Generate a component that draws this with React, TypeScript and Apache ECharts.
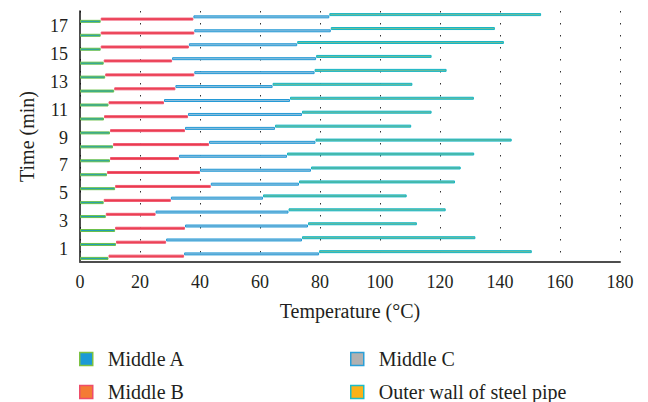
import React, { useEffect, useRef } from "react";
import * as echarts from "echarts";

const times = ["0", "1", "2", "3", "4", "5", "6", "7", "8", "9", "10", "11", "12", "13", "14", "15", "16", "17"];
const middleA = [9.5, 12, 11.7, 8.6, 7.9, 11.7, 9, 10, 11, 10, 8, 9.5, 11.4, 8.4, 7.9, 6.9, 6.9, 6.9];
const middleB = [34.7, 28.7, 35, 25.2, 30.3, 43.6, 40, 33, 43, 35, 36, 28, 31.8, 38.1, 30.7, 36.3, 38.1, 37.8];
const middleC = [79.7, 74, 76, 69.5, 61, 73, 77, 69, 78.5, 65, 74, 70, 64.2, 78.2, 78.7, 72.4, 83.6, 83.1];
const outerWall = [150.6, 131.8, 112.3, 121.9, 108.9, 125, 126.9, 131.4, 143.9, 110.4, 117.2, 131.3, 110.8, 122.2, 117.2, 141.3, 138.3, 153.7];
const xTicks = [0, 20, 40, 60, 80, 100, 120, 140, 160, 180];

const names = ["Middle A", "Middle B", "Middle C", "Outer wall of steel pipe"];
const legendFills = ["#1b9ad6", "#f47b35", "#b1b1b1", "#fbb219"];
const legendBorders = ["#7cc142", "#ee4d6a", "#2a9fd8", "#1cbcc8"];
const barFills = ["#1f9fb4", "#e93a4a", "#8fbfdc", "#74bc96"];
const barBorders = ["#6cc04a", "#f0566f", "#249ad6", "#14b6c6"];

const FONT = "'Liberation Serif', 'DejaVu Serif', serif";
const TEXT = "#231f20";

export default function App() {
  const ref = useRef<HTMLDivElement>(null);
  useEffect(() => {
    if (!ref.current) return;
    const chart = echarts.init(ref.current, null, { renderer: "svg" });
    const ends = [middleA, middleB, middleC, outerWall];
    const series: any[] = [];
    // Horizontal groups place the first stack at the top, so add the outer wall first.
    for (let i = 3; i >= 0; i--) {
      const stack = "s" + i;
      if (i > 0) {
        series.push({
          type: "bar",
          name: "_base" + i,
          stack,
          barWidth: 3,
          barGap: "-25%",
          silent: true,
          itemStyle: { color: "transparent", borderWidth: 0 },
          data: ends[i - 1],
        });
      }
      series.push({
        type: "bar",
        name: names[i],
        stack,
        barWidth: 3,
        barGap: "-25%",
        itemStyle: { color: barFills[i], borderColor: barBorders[i], borderWidth: 1 },
        data: ends[i].map((v, k) => (i > 0 ? +(v - ends[i - 1][k]).toFixed(2) : v)),
      });
    }
    const legendItem = (i: number) => ({
      name: names[i],
      itemStyle: { color: legendFills[i], borderColor: legendBorders[i], borderWidth: 1.5 },
    });
    const legendCommon = {
      orient: "vertical",
      top: 349,
      height: 60,
      padding: 0,
      icon: "rect",
      itemWidth: 13,
      itemHeight: 13,
      itemGap: 13,
      selectedMode: false,
      textStyle: { fontFamily: FONT, fontSize: 20, color: TEXT, padding: [0, 0, 0, 10] },
    };
    chart.setOption({
      animation: false,
      backgroundColor: "#ffffff",
      grid: { left: 80, right: 28, top: 11, bottom: 140, containLabel: false },
      legend: [
        { ...legendCommon, left: 79, data: [legendItem(0), legendItem(1)] },
        { ...legendCommon, left: 350, data: [legendItem(2), legendItem(3)] },
      ],
      xAxis: {
        type: "value",
        min: xTicks[0],
        max: xTicks[xTicks.length - 1],
        interval: xTicks[1] - xTicks[0],
        name: "Temperature (°C)",
        nameLocation: "middle",
        nameGap: 39,
        nameTextStyle: { fontFamily: FONT, fontSize: 20, color: TEXT },
        axisLine: { show: true, lineStyle: { color: "#4d4d4d", width: 2 } },
        axisTick: { show: false },
        axisLabel: { fontFamily: FONT, fontSize: 18, color: TEXT, margin: 11 },
        splitLine: { show: true, lineStyle: { color: "#333333", width: 1, type: [1.5, 10.5] } },
      },
      yAxis: {
        type: "category",
        data: times,
        name: "Time (min)",
        nameLocation: "middle",
        nameGap: 43,
        nameRotate: 90,
        nameTextStyle: { fontFamily: FONT, fontSize: 20, color: TEXT },
        axisLine: { show: true, lineStyle: { color: "#111111", width: 1.5 } },
        axisTick: { show: false },
        axisLabel: {
          fontFamily: FONT,
          fontSize: 18,
          color: TEXT,
          margin: 12,
          verticalAlign: "top",
          lineHeight: 16,
          interval: (index: number) => index % 2 === 1,
        },
        splitLine: { show: false },
      },
      series,
    });
    return () => chart.dispose();
  }, []);
  return (
    <div
      ref={ref}
      style={{ position: "fixed", left: 0, top: 0, width: 648, height: 402, background: "#fff" }}
    />
  );
}
